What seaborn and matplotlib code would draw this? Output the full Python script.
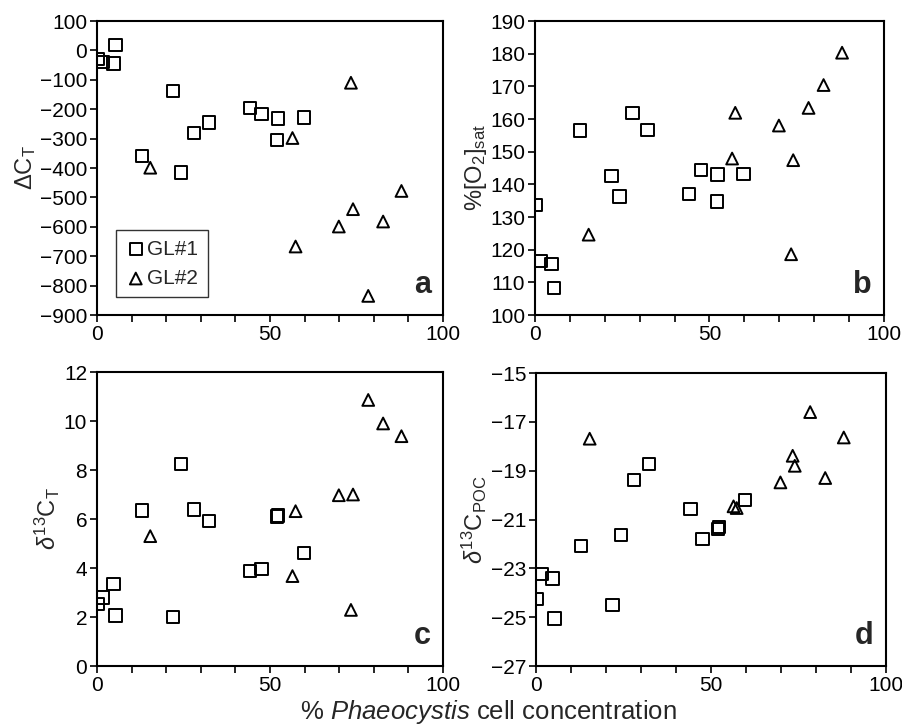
import matplotlib
matplotlib.use("Agg")
import matplotlib.pyplot as plt
import seaborn as sns
import pandas as pd
from matplotlib.ticker import MultipleLocator, FixedLocator

# % Phaeocystis cell concentration for each station group
gl1_x = [0.3, 1.6, 4.8, 5.4, 13.0, 21.9, 24.3, 28.0, 32.3, 44.2, 47.6, 52.3, 52.1, 59.8]
gl2_x = [15.4, 56.5, 57.4, 69.9, 73.4, 74.0, 78.4, 82.7, 88.0]

# panel a: delta C_T
gl1_a = [-30, -40, -45, 18, -360, -138, -415, -280, -245, -196, -217, -232, -305, -228]
gl2_a = [-399, -298, -667, -599, -110, -540, -835, -582, -478]
# panel b: %[O2]sat
gl1_b = [133.6, 116.6, 115.6, 108.3, 156.5, 142.5, 136.3, 161.8, 156.7, 137, 144.4, 143, 134.8, 143.2]
gl2_b = [124.6, 147.9, 161.9, 158, 118.6, 147.4, 163.4, 170.4, 180.3]
# panel c: d13C_T
gl1_c = [2.53, 2.8, 3.35, 2.07, 6.35, 1.99, 8.25, 6.39, 5.91, 3.88, 3.97, 6.14, 6.1, 4.62]
gl2_c = [5.3, 3.67, 6.32, 6.97, 2.29, 7.0, 10.86, 9.9, 9.38]
# panel d: d13C_POC
gl1_d = [-24.26, -23.22, -23.42, -25.05, -22.08, -24.51, -21.64, -19.39, -18.73, -20.56, -21.79, -21.31, -21.39, -20.19]
gl2_d = [-17.69, -20.46, -20.53, -19.48, -18.39, -18.8, -16.6, -19.3, -17.64]

# y tick labels per panel
ticks_a = [100, 0, -100, -200, -300, -400, -500, -600, -700, -800, -900]
ticks_b = [100, 110, 120, 130, 140, 150, 160, 170, 180, 190]
ticks_c = [0, 2, 4, 6, 8, 10, 12]
ticks_d = [-15, -17, -19, -21, -23, -25, -27]

sns.set_style("white")
plt.rcParams["font.family"] = ["Liberation Sans", "DejaVu Sans"]
plt.rcParams["mathtext.fontset"] = "custom"
plt.rcParams["mathtext.rm"] = "Liberation Sans"
plt.rcParams["mathtext.it"] = "Liberation Sans:italic"
plt.rcParams["mathtext.bf"] = "Liberation Sans:bold"

fig = plt.figure(figsize=(9.02, 7.27), dpi=100)

panels = [
    ("a", gl1_a, gl2_a, r"$\Delta$C$_{\mathrm{T}}$", ticks_a, [0.1075, 0.5667, 0.3836, 0.4044]),
    ("b", gl1_b, gl2_b, r"%[O$_{2}$]$_{\mathrm{sat}}$", ticks_b, [0.593, 0.5667, 0.387, 0.4044]),
    ("c", gl1_c, gl2_c, r"$\delta^{13}$C$_{\mathrm{T}}$", ticks_c, [0.1075, 0.0839, 0.3836, 0.4044]),
    ("d", gl1_d, gl2_d, r"$\delta^{13}$C$_{\mathrm{POC}}$", ticks_d, [0.594, 0.0839, 0.388, 0.403]),
]

for label, y1, y2, ylab, yt, rect in panels:
    ax = fig.add_axes(rect)
    df1 = pd.DataFrame({"x": gl1_x, "y": y1})
    df2 = pd.DataFrame({"x": gl2_x, "y": y2})
    sns.scatterplot(data=df1, x="x", y="y", marker="s", s=80, facecolors="none",
                    edgecolor="black", linewidth=1.4, ax=ax, label="GL#1", legend=False)
    sns.scatterplot(data=df2, x="x", y="y", marker="^", s=72, facecolors="none",
                    edgecolor="black", linewidth=1.4, ax=ax, label="GL#2", legend=False)
    ax.set_xlim(0, 100)
    ax.set_ylim(min(yt), max(yt))
    ax.xaxis.set_major_locator(MultipleLocator(50))
    ax.xaxis.set_minor_locator(MultipleLocator(10))
    ax.yaxis.set_major_locator(FixedLocator(yt))
    ax.tick_params(which="both", direction="out", length=5, width=1.2, labelsize=15,
                   bottom=True, left=True, colors="black", pad=2)
    for sp in ax.spines.values():
        sp.set_visible(True)
        sp.set_color("black")
        sp.set_linewidth(1.5)
    ax.set_xlabel("")
    ax.set_ylabel(ylab, fontsize=17, labelpad=1)
    ax.text(0.965, 0.05, label, transform=ax.transAxes, ha="right", va="bottom",
            fontsize=22, fontweight="bold")
    if label == "a":
        leg = ax.legend(loc="lower left", bbox_to_anchor=(0.055, 0.06), fontsize=15,
                        frameon=True, fancybox=False, edgecolor="black",
                        handletextpad=0.05, handlelength=1.0, borderpad=0.45,
                        labelspacing=0.5, borderaxespad=0)
        leg.get_frame().set_linewidth(1.0)

fig.text(0.541, 0.002, r"% $\mathit{Phaeocystis}$ cell concentration",
         ha="center", va="bottom", fontsize=18.5)

fig.savefig("out.png", dpi=100)
